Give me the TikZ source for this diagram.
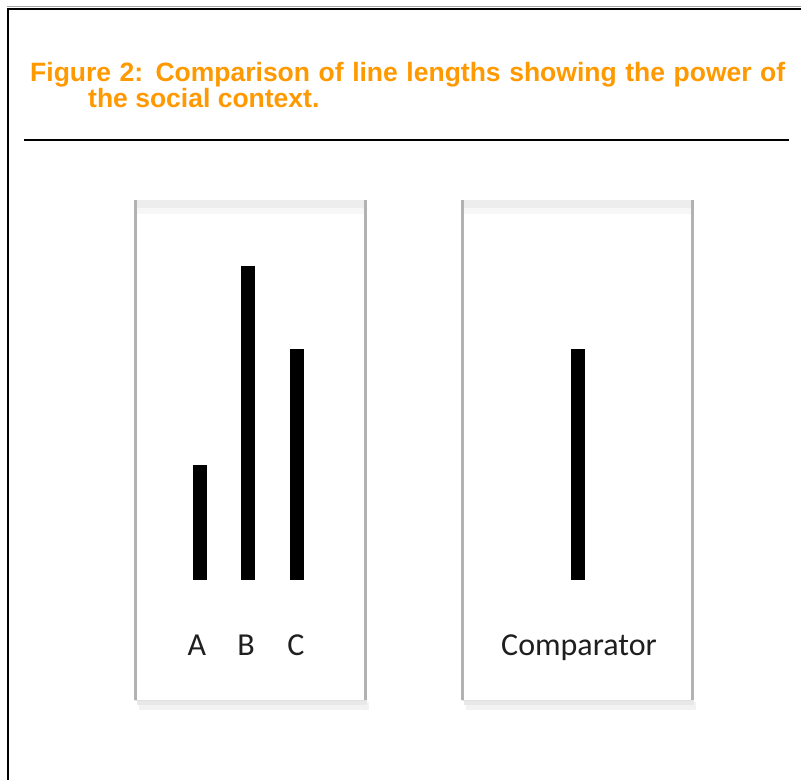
\documentclass[tikz,border=0pt]{standalone}
\usepackage{fontspec}
\setmainfont{Liberation Sans}
\newfontfamily\labelfont{Carlito}
\definecolor{titleorange}{HTML}{FF9900}
\tikzset{
  bar/.style={fill=black, draw=none},
  lbl/.style={font=\labelfont\fontsize{32}{36}\selectfont, text=black!88, inner sep=0pt, anchor=base},
  ttl/.style={font=\bfseries\fontsize{26.5}{29}\selectfont, text=titleorange, inner sep=0pt, anchor=base west},
}
\newcommand{\panelbox}[4]{% x1,y1,x2,y2 (y measured downward)
  \fill[black!5] (#1+4,#4+2) rectangle (#3+4,#4+10);
  \fill[black!9] (#1+2,#4) rectangle (#3+2,#4+5);
  \fill[white] (#1,#2) rectangle (#3,#4);
  \fill[black!7] (#1,#2) rectangle (#3,#2+8);
  \fill[black!3] (#1,#2+8) rectangle (#3,#2+14);
  \draw[black!12, line width=1pt] (#1,#4) -- (#3,#4);
  \draw[black!30, line width=3pt] (#1,#2) -- (#1,#4);
  \draw[black!30, line width=3pt] (#3,#2) -- (#3,#4);
}
\begin{document}
\begin{tikzpicture}[x=1pt, y=-1pt]
\useasboundingbox (0,0) rectangle (801,780);
\fill[white] (0,0) rectangle (801,780);
% outer frame
\draw[black!35, line width=1.2pt] (7,6.5) -- (801,6.5);
\draw[black, line width=2pt] (8,8.5) -- (801,8.5);
\draw[black, line width=2pt] (8,8) -- (8,780);
% title
\node[ttl] (t1) at (30,81) {\makebox[755pt][s]{Figure 2: Comparison of line lengths showing the power of}};
\node[ttl] (t2) at (88,107) {the social context.};
% rule
\draw[black, line width=2pt] (24,139.5) -- (789,139.5);
% panels
\panelbox{135}{200}{365}{700}
\panelbox{462}{200}{692}{700}
% bars
\fill[bar] (193,465) rectangle (207,580);
\fill[bar] (241,266) rectangle (255,580);
\fill[bar] (290,349) rectangle (304,580);
\fill[bar] (571,349) rectangle (585,580);
% labels
\node[lbl] (la) at (197,655) {A};
\node[lbl] (lb) at (246,655) {B};
\node[lbl] (lc) at (296,655) {C};
\node[lbl] (lcomp) at (579,655) {Comparator};
\end{tikzpicture}
\end{document}
